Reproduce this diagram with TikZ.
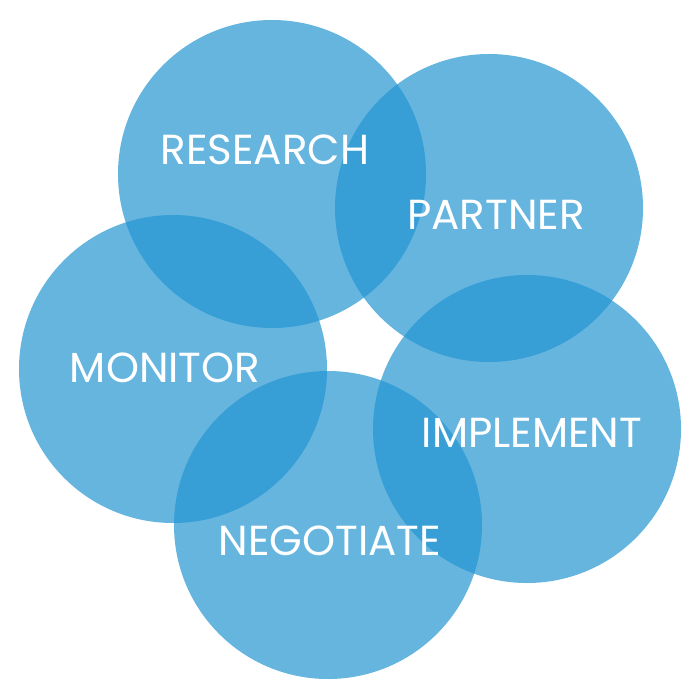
\documentclass[tikz,border=0pt]{standalone}
\usepackage{fontspec}
\setmainfont{Poppins}
\definecolor{cycleblue}{RGB}{36,149,210}

\begin{document}
\begin{tikzpicture}[x=0.5pt,y=-0.5pt]
    \tikzstyle{every node}=[font={\fontsize{21}{25}\selectfont}]
    \tikzstyle{stage}=[circle, fill=cycleblue, fill opacity=0.7, minimum size=154pt, inner sep=0pt]
    \tikzstyle{stagelabel}=[text=white, inner sep=0pt]
    \useasboundingbox (0,0) rectangle (700,700);
    \node[stage] (research) at (272,174) {};
    \node[stage] (partner) at (489,208) {};
    \node[stage] (implement) at (527,429) {};
    \node[stage] (negotiate) at (328,525) {};
    \node[stage] (monitor) at (173,369) {};
    \node[stagelabel] (researchtext) at (265,150) {RESEARCH};
    \node[stagelabel] (partnertext) at (496,215) {PARTNER};
    \node[stagelabel] (implementtext) at (532,433) {IMPLEMENT};
    \node[stagelabel] (negotiatetext) at (330,541) {NEGOTIATE};
    \node[stagelabel] (monitortext) at (165,368) {MONITOR};
\end{tikzpicture}
\end{document}
